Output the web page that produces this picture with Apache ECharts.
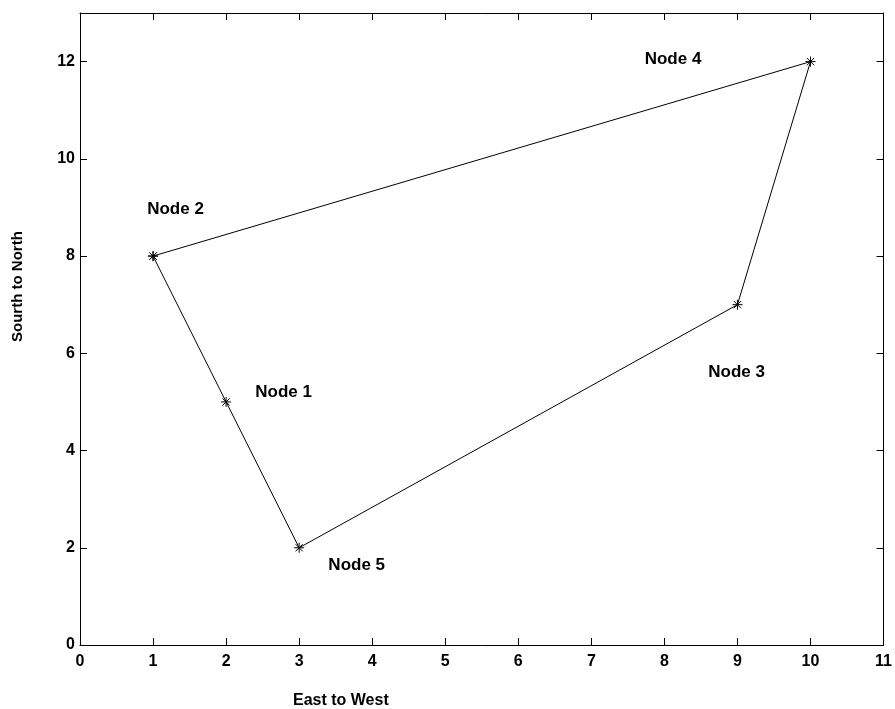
<!DOCTYPE html>
<html>
<head>
<meta charset="utf-8">
<script src="https://cdn.jsdelivr.net/npm/echarts@6/dist/echarts.min.js"></script>
<style>html,body{margin:0;padding:0;background:#fff}#c{width:895px;height:709px}</style>
</head>
<body>
<div id="c"></div>
<script>
// Node coordinates along the route (closed polygon: 2 -> 1 -> 5 -> 3 -> 4 -> 2)
const routeX = [1, 2, 3, 9, 10, 1];
const routeY = [8, 5, 2, 7, 12, 8];

// Node name annotations and their anchor points
const nodeNames = ['Node 1', 'Node 2', 'Node 3', 'Node 4', 'Node 5'];
const nodeLabelX = [2.4, 0.92, 8.6, 7.73, 3.4];
const nodeLabelY = [5.2, 8.97, 5.6, 12.05, 1.63];

// Axis ranges and tick steps
const xRange = [0, 11];
const yRange = [0, 13];
const xStep = 1;
const yStep = 2;

const xTitle = 'East to West';
const yTitle = 'Sourth to North';

const FONT = 'Liberation Sans, Arial, sans-serif';
const asterisk = 'path://M-1,0L1,0M0,-1L0,1M-0.72,-0.72L0.72,0.72M-0.72,0.72L0.72,-0.72';

const chart = echarts.init(document.getElementById('c'));

const baseAxis = {
  type: 'value',
  axisLine: { show: true, onZero: false, lineStyle: { color: '#000', width: 1 } },
  axisTick: { show: true, inside: true, length: 7, lineStyle: { color: '#000', width: 1 } },
  splitLine: { show: false }
};

chart.setOption({
  animation: false,
  backgroundColor: '#fff',
  grid: { left: 80, right: 10, top: 13, bottom: 64, containLabel: false },
  xAxis: [
    Object.assign({}, baseAxis, {
      position: 'bottom', min: xRange[0], max: xRange[1], interval: xStep,
      axisLabel: { color: '#000', fontFamily: FONT, fontWeight: 'bold', fontSize: 16, margin: 9 }
    }),
    Object.assign({}, baseAxis, {
      position: 'top', min: xRange[0], max: xRange[1], interval: xStep,
      axisLabel: { show: false }
    })
  ],
  yAxis: [
    Object.assign({}, baseAxis, {
      position: 'left', min: yRange[0], max: yRange[1], interval: yStep,
      axisLabel: {
        color: '#000', fontFamily: FONT, fontWeight: 'bold', fontSize: 16, margin: 5,
        formatter: v => (v <= 12 ? String(v) : '')
      }
    }),
    Object.assign({}, baseAxis, {
      position: 'right', min: yRange[0], max: yRange[1], interval: yStep,
      axisLabel: { show: false }
    })
  ],
  series: [
    {
      type: 'line',
      data: routeX.map((x, i) => [x, routeY[i]]),
      symbol: asterisk,
      symbolSize: 10,
      showSymbol: true,
      lineStyle: { color: '#000', width: 1 },
      itemStyle: { color: '#000', borderColor: '#000', borderWidth: 1 },
      silent: true
    },
    {
      type: 'scatter',
      data: nodeLabelX.map((x, i) => [x, nodeLabelY[i], nodeNames[i]]),
      symbolSize: 0,
      itemStyle: { opacity: 1, color: '#000' },
      label: {
        show: true,
        position: 'right',
        distance: 0,
        formatter: p => p.data[2],
        color: '#000',
        opacity: 1,
        fontFamily: FONT,
        fontWeight: 'bold',
        fontSize: 17
      },
      silent: true
    }
  ],
  graphic: [
    {
      type: 'text', x: 293, y: 701,
      style: { text: xTitle, fill: '#000', font: 'bold 16px ' + FONT, verticalAlign: 'middle' }
    },
    {
      type: 'text', x: 10, y: 342, rotation: Math.PI / 2,
      style: { text: yTitle, fill: '#000', font: 'bold 15px ' + FONT }
    }
  ]
});
</script>
</body>
</html>
